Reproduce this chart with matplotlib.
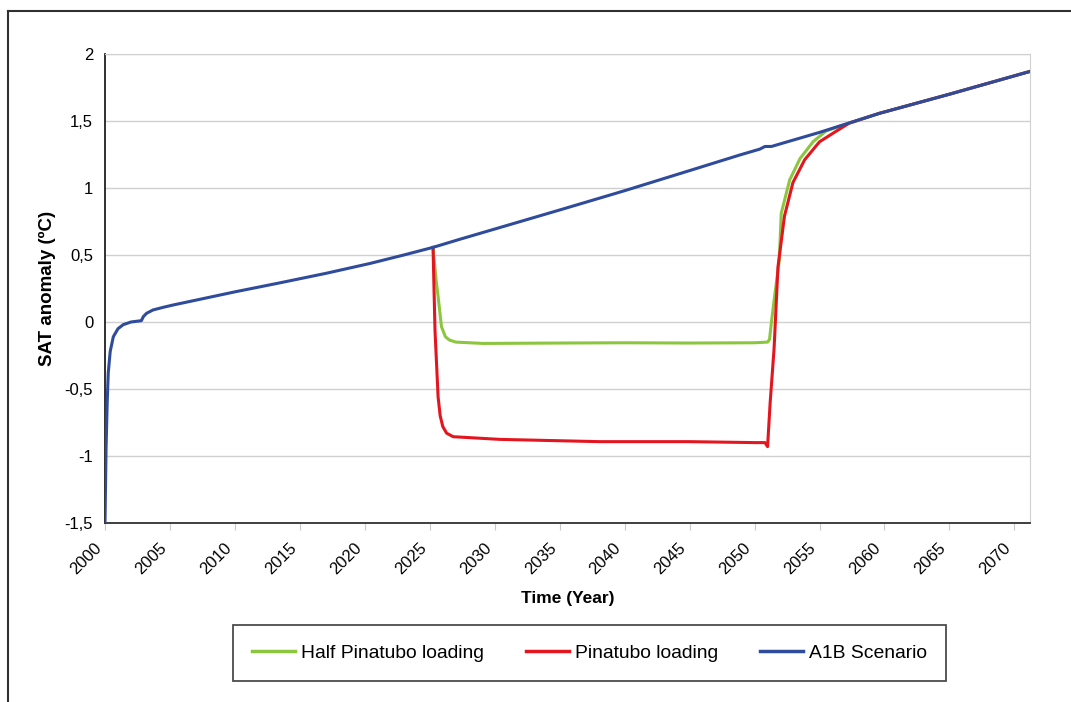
import matplotlib
matplotlib.use("Agg")
import matplotlib.pyplot as plt
import matplotlib.transforms as mtransforms
from matplotlib.lines import Line2D

plt.rcParams['font.family'] = ['Liberation Sans', 'DejaVu Sans']

# A1B Scenario (blau)
a1b_year = [2000.0, 2000.08, 2000.17, 2000.25, 2000.4, 2000.64, 2001.0, 2001.4, 2002.0,
            2002.8, 2002.95, 2003.2, 2003.7, 2004.5, 2005.25, 2010.0, 2013.5, 2017.0,
            2020.4, 2023.0, 2025.25, 2027.3, 2035.0, 2040.0, 2045.0, 2048.85, 2050.4,
            2050.8, 2051.3, 2052.0, 2055.0, 2059.6, 2065.0, 2071.2]
a1b_sat = [-1.5, -0.95, -0.6, -0.38, -0.22, -0.11, -0.05, -0.02, 0.0,
           0.01, 0.04, 0.065, 0.09, 0.11, 0.127, 0.225, 0.293, 0.363,
           0.437, 0.5, 0.557, 0.617, 0.836, 0.98, 1.13, 1.246, 1.29,
           1.31, 1.31, 1.33, 1.415, 1.557, 1.70, 1.87]

# Half Pinatubo loading
half_year = [2025.25, 2025.35, 2025.5, 2025.64, 2025.9, 2026.2, 2026.5, 2027.0, 2029.1,
             2035.0, 2040.0, 2045.0, 2050.0, 2051.0, 2051.15, 2051.3, 2051.5, 2051.9,
             2052.05, 2052.7, 2053.5, 2054.5, 2055.5, 2056.5, 2057.5, 2059.6, 2065.0, 2071.2]
half_sat = [0.557, 0.45, 0.3, 0.19, -0.035, -0.11, -0.134, -0.15, -0.16,
            -0.157, -0.155, -0.157, -0.155, -0.15, -0.13, 0.0, 0.16, 0.46,
            0.81, 1.06, 1.22, 1.345, 1.425, 1.46, 1.49, 1.557, 1.70, 1.87]

# Pinatubo loading
pin_year = [2025.25, 2025.4, 2025.64, 2025.8, 2026.0, 2026.3, 2026.8, 2030.4, 2038.1,
            2045.0, 2050.0, 2050.8, 2051.0, 2051.2, 2051.5, 2051.8, 2052.3, 2052.95,
            2053.85, 2055.0, 2056.3, 2057.3, 2059.6, 2065.0, 2071.2]
pin_sat = [0.557, -0.06, -0.56, -0.7, -0.78, -0.83, -0.856, -0.876, -0.893,
           -0.893, -0.9, -0.9, -0.93, -0.6, -0.2, 0.41, 0.79, 1.04,
           1.21, 1.345, 1.425, 1.485, 1.557, 1.70, 1.87]

x_ticks = list(range(2000, 2071, 5))
y_ticks = [-1.5, -1, -0.5, 0, 0.5, 1, 1.5, 2]
y_labels = ['-1,5', '-1', '-0,5', '0', '0,5', '1', '1,5', '2']

fig = plt.figure(figsize=(10.71, 7.02), dpi=100)
ax = fig.add_axes([105 / 1071, 1 - 523 / 702, (1030 - 105) / 1071, (523 - 54) / 702])

ax.plot(half_year, half_sat, color='#8cc63e', lw=2.2, label='Half Pinatubo loading', zorder=3)
ax.plot(pin_year, pin_sat, color='#e3161f', lw=2.2, label='Pinatubo loading', zorder=4)
ax.plot(a1b_year, a1b_sat, color='#2f4b9c', lw=2.2, label='A1B Scenario', zorder=5)

ax.set_xlim(2000, 2071.2)
ax.set_ylim(-1.5, 2)
ax.set_xticks(x_ticks)
ax.set_xticklabels([str(t) for t in x_ticks], rotation=45, ha='right', va='center',
                   rotation_mode='anchor', fontsize=12)
ax.set_yticks(y_ticks)
ax.set_yticklabels(y_labels, fontsize=12)
ax.tick_params(axis='x', direction='out', length=5, color='#c8c8c8', pad=11)
ax.tick_params(axis='y', length=0, pad=8.5)

# Beschriftung etwas nach links schieben (nach tick_params, sonst wird es zurueckgesetzt)
shift = mtransforms.ScaledTranslation(-6 / 100, 0, fig.dpi_scale_trans)
for lbl in ax.get_xticklabels():
    lbl.set_transform(lbl.get_transform() + shift)

ax.grid(True, axis='y', color='#d0d0d0', lw=1)
ax.set_axisbelow(True)
ax.spines['left'].set_color('#202020')
ax.spines['bottom'].set_color('#303030')
ax.spines['left'].set_linewidth(1.3)
ax.spines['bottom'].set_linewidth(1.3)
ax.spines['top'].set_color('#d0d0d0')
ax.spines['right'].set_color('#d0d0d0')

ax.set_xlabel('Time (Year)', fontsize=12.5, fontweight='bold', labelpad=10)
ax.set_ylabel('SAT anomaly (ºC)', fontsize=13.5, fontweight='bold', labelpad=6)

leg = fig.legend(loc='center', ncol=3, fontsize=13.9,
                 bbox_to_anchor=(589.5 / 1071, 1 - 653 / 702),
                 frameon=True, fancybox=False, edgecolor='#202020',
                 handlelength=2.2, handletextpad=0.32, columnspacing=2.2,
                 borderaxespad=0, borderpad=1.0)
leg.get_frame().set_linewidth(1.3)
for h in leg.get_lines():
    h.set_linewidth(2.5)

# outer frame
fig.add_artist(Line2D([8 / 1071, 8 / 1071], [0, 1 - 11 / 702], transform=fig.transFigure,
                      color='#303030', lw=1.5))
fig.add_artist(Line2D([8 / 1071, 1], [1 - 11 / 702, 1 - 11 / 702], transform=fig.transFigure,
                      color='#303030', lw=1.5))

fig.savefig('out.png', dpi=100)
